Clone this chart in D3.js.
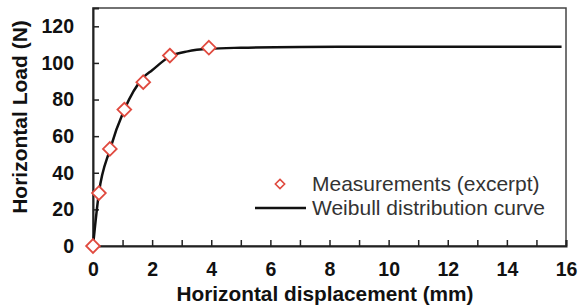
<!DOCTYPE html>
<html>
<head>
<meta charset="utf-8">
<script src="https://cdn.jsdelivr.net/npm/d3@7"></script>
<style>
  body { margin: 0; background: #fff; }
  svg { display: block; font-family: "Liberation Sans", Arial, sans-serif; }
</style>
</head>
<body>
<div id="chart"></div>
<script>
// measured points (excerpt)
var measX = [0, 0.2, 0.57, 1.06, 1.7, 2.6, 3.92];
var measY = [0, 28.9, 53, 74.5, 89.5, 104, 108.3];

// fitted curve
var curveX = [0, 0.2, 0.57, 1.06, 1.7, 2.0, 2.6, 3.2, 3.92, 5, 7, 10, 15.85];
var curveY = [0, 29, 52.5, 74.5, 92, 96, 103.5, 106.3, 107.7, 108.3, 108.7, 108.8, 108.8];

var xTicks = [0, 2, 4, 6, 8, 10, 12, 14, 16];
var xMinor = d3.range(0, 17, 1);
var yTicks = [0, 20, 40, 60, 80, 100, 120];

var margin = {top: 8, right: 12, bottom: 61, left: 93},
    width = 578 - margin.left - margin.right,
    height = 307 - margin.top - margin.bottom;

var svg = d3.select("#chart")
    .append("svg")
    .attr("width", 578)
    .attr("height", 307);

var g = svg.append("g").attr("transform", "translate(" + margin.left + "," + margin.top + ")");

var x = d3.scaleLinear().domain([0, 16]).range([0, width]);
var y = d3.scaleLinear().domain([0, 130]).range([height, 0]);

// frame (top / right)
g.append("rect")
    .attr("width", width)
    .attr("height", height)
    .attr("fill", "none")
    .attr("stroke", "#444")
    .attr("stroke-width", 1.5);

// x axis
var xAxis = g.append("g")
    .attr("transform", "translate(0," + height + ")")
    .call(d3.axisBottom(x).tickValues(xMinor).tickSize(-6).tickFormat(""));
xAxis.select(".domain").attr("stroke", "#222").attr("stroke-width", 2);
xAxis.selectAll(".tick line").attr("stroke", "#222").attr("stroke-width", 1.5);

var xLab = g.append("g")
    .attr("transform", "translate(0," + height + ")")
    .call(d3.axisBottom(x).tickValues(xTicks).tickSize(0).tickPadding(16));
xLab.select(".domain").remove();
xLab.selectAll("text")
    .attr("font-size", 19.5)
    .attr("font-weight", "bold")
    .attr("fill", "#111")
    .attr("font-family", "Liberation Sans, Arial, sans-serif");

// y axis
var yAxis = g.append("g")
    .call(d3.axisLeft(y).tickValues(yTicks).tickSize(-6).tickPadding(19));
yAxis.select(".domain").attr("stroke", "#222").attr("stroke-width", 2);
yAxis.selectAll(".tick line").attr("stroke", "#222").attr("stroke-width", 1.5);
yAxis.selectAll("text")
    .attr("font-size", 19.5)
    .attr("font-weight", "bold")
    .attr("fill", "#111")
    .attr("font-family", "Liberation Sans, Arial, sans-serif");

// axis titles
svg.append("text")
    .attr("x", 325)
    .attr("y", 301)
    .attr("text-anchor", "middle")
    .attr("font-size", 20.8)
    .attr("font-weight", "bold")
    .attr("fill", "#111")
    .text("Horizontal displacement (mm)");

svg.append("text")
    .attr("transform", "translate(27,117) rotate(-90)")
    .attr("text-anchor", "middle")
    .attr("font-size", 21)
    .attr("font-weight", "bold")
    .attr("fill", "#111")
    .text("Horizontal Load (N)");

// curve
var line = d3.line()
    .x(function(d) { return x(d[0]); })
    .y(function(d) { return y(d[1]); })
    .curve(d3.curveMonotoneX);

g.append("path")
    .datum(d3.zip(curveX, curveY))
    .attr("fill", "none")
    .attr("stroke", "#111")
    .attr("stroke-width", 2.5)
    .attr("d", line);

// measurement diamonds
var diamond = d3.symbol().type(d3.symbolDiamond2).size(120);
g.selectAll(".meas")
    .data(d3.zip(measX, measY))
    .enter().append("path")
    .attr("class", "meas")
    .attr("transform", function(d) { return "translate(" + x(d[0]) + "," + y(d[1]) + ")"; })
    .attr("d", diamond)
    .attr("fill", "#fff")
    .attr("stroke", "#e04a3f")
    .attr("stroke-width", 1.8);

// legend
var leg = svg.append("g");
leg.append("path")
    .attr("transform", "translate(280,184)")
    .attr("d", d3.symbol().type(d3.symbolDiamond2).size(55))
    .attr("fill", "#fff")
    .attr("stroke", "#e04a3f")
    .attr("stroke-width", 1.6);
leg.append("text")
    .attr("x", 312).attr("y", 191)
    .attr("font-size", 21)
    .attr("fill", "#333")
    .text("Measurements (excerpt)");
leg.append("line")
    .attr("x1", 255).attr("x2", 306)
    .attr("y1", 208).attr("y2", 208)
    .attr("stroke", "#111")
    .attr("stroke-width", 2.5);
leg.append("text")
    .attr("x", 312).attr("y", 215)
    .attr("font-size", 21)
    .attr("fill", "#333")
    .text("Weibull distribution curve");
</script>
</body>
</html>
